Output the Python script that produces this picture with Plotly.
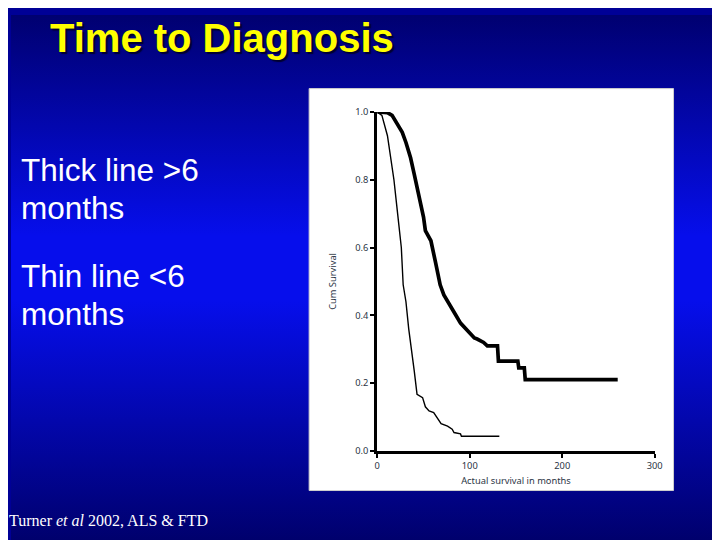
import base64
import plotly.graph_objects as go

# Kaplan-Meier curves (months, cumulative survival)
thick_months = [0, 11, 16, 23, 27, 31, 36, 40, 45, 50, 52, 58, 63, 68, 72, 79, 85, 90,
                97, 105, 108, 115, 119, 130, 131, 152, 153, 159, 160, 260]
thick_surv = [1.0, 0.998, 0.99, 0.96, 0.94, 0.91, 0.865, 0.816, 0.758, 0.69, 0.65, 0.62,
              0.556, 0.49, 0.46, 0.43, 0.40, 0.377, 0.358, 0.333, 0.33, 0.32, 0.31, 0.31,
              0.265, 0.265, 0.245, 0.245, 0.21, 0.21]

thin_months = [0, 5, 11, 14, 18, 22, 26, 28, 31, 34, 38, 40, 43, 49, 52, 56, 61, 65, 69,
               76, 81, 83, 90, 91, 132]
thin_surv = [1.0, 0.99, 0.93, 0.875, 0.80, 0.70, 0.60, 0.49, 0.44, 0.36, 0.285, 0.235,
             0.167, 0.157, 0.13, 0.118, 0.113, 0.098, 0.08, 0.073, 0.064, 0.054, 0.05,
             0.043, 0.043]

x_ticks = [0, 100, 200, 300]
y_ticks = [0.0, 0.2, 0.4, 0.6, 0.8, 1.0]

side_lines = ['Thick line &gt;6', 'months', 'Thin line &lt;6', 'months']

W, H = 720, 540
OFF = 8                      # page margin round the figure
SX = W / (W + 2 * OFF)       # the shot squeezes page + margins into 720x540
SY = H / (H + 2 * OFF)

# convert a position on the finished picture to paper coords
def px(v):
    return (v / SX - OFF) / W

def py(v):
    return 1 - (v / SY - OFF) / H

# slide background: dark-bright-dark vertical gradient as an svg image
svg = (
    '<svg xmlns="http://www.w3.org/2000/svg" width="720" height="540" '
    'preserveAspectRatio="none"><defs><linearGradient id="g" x1="0" y1="0" x2="0" y2="1">'
    '<stop offset="0" stop-color="rgb(0,0,112)"/>'
    '<stop offset="0.42" stop-color="rgb(6,14,236)"/>'
    '<stop offset="0.54" stop-color="rgb(6,14,236)"/>'
    '<stop offset="1" stop-color="rgb(0,0,108)"/>'
    '</linearGradient></defs><rect width="720" height="540" fill="url(#g)"/></svg>'
)
bg_src = 'data:image/svg+xml;base64,' + base64.b64encode(svg.encode()).decode()

thick = go.Scatter(x=thick_months, y=thick_surv, mode='lines',
                   line=dict(color='black', width=3.7), hoverinfo='skip')
thin = go.Scatter(x=thin_months, y=thin_surv, mode='lines',
                  line=dict(color='black', width=1.4), hoverinfo='skip')

fig = go.Figure([thick, thin])

small = dict(family='Noto Sans', size=9.3, color='#2b3545')

fig.update_layout(
    width=W, height=H,
    margin=dict(l=0, r=0, t=0, b=0),
    showlegend=False,
    paper_bgcolor='rgb(0,0,150)',
    plot_bgcolor='rgba(0,0,0,0)',
    images=[dict(source=bg_src, xref='paper', yref='paper', x=0, y=1, sizex=1, sizey=1,
                 xanchor='left', yanchor='top', sizing='stretch', layer='below')],
    shapes=[dict(type='rect', xref='paper', yref='paper',
                 x0=px(304), x1=px(666), y0=py(481), y1=py(81),
                 fillcolor='white', line=dict(color='#cfcfcf', width=1), layer='below')],
    xaxis=dict(
        domain=[px(371.7), px(647.3)], range=[0, 300],
        tickvals=x_ticks, ticktext=[str(v) for v in x_ticks],
        ticks='outside', ticklen=4, tickwidth=2, tickcolor='black',
        showline=True, linecolor='black', linewidth=3, showgrid=False, zeroline=False,
        tickfont=small, fixedrange=True,
        title=dict(text='Actual survival in months', font=small, standoff=7),
    ),
    yaxis=dict(
        domain=[py(441.5), py(104.3)], range=[0, 1],
        tickvals=y_ticks, ticktext=[f'{v:.1f}' for v in y_ticks],
        ticks='outside', ticklen=4, tickwidth=2, tickcolor='black',
        showline=True, linecolor='black', linewidth=3, showgrid=False, zeroline=False,
        tickfont=small, fixedrange=True,
        title=dict(text='Cum Survival', font=small, standoff=18),
    ),
)

fig.add_annotation(
    text='<b>Time to Diagnosis</b>', xref='paper', yref='paper',
    x=px(45), y=py(7), xanchor='left', yanchor='top', showarrow=False,
    font=dict(family='Liberation Sans', size=40, color='#ffff00',
              shadow='2px 2px 1px #000030'),
)
for txt, top in zip(side_lines, [142, 180, 248, 285]):
    fig.add_annotation(
        text=txt, xref='paper', yref='paper', x=px(16), y=py(top),
        xanchor='left', yanchor='top', align='left', showarrow=False,
        font=dict(family='Liberation Sans', size=31.5, color='white'),
    )
fig.add_annotation(
    text='Turner <i>et al</i> 2002, ALS &amp; FTD', xref='paper', yref='paper',
    x=px(4), y=py(500), xanchor='left', yanchor='top', showarrow=False,
    font=dict(family='Liberation Serif', size=16, color='white'),
)

fig.write_html("out.html")
